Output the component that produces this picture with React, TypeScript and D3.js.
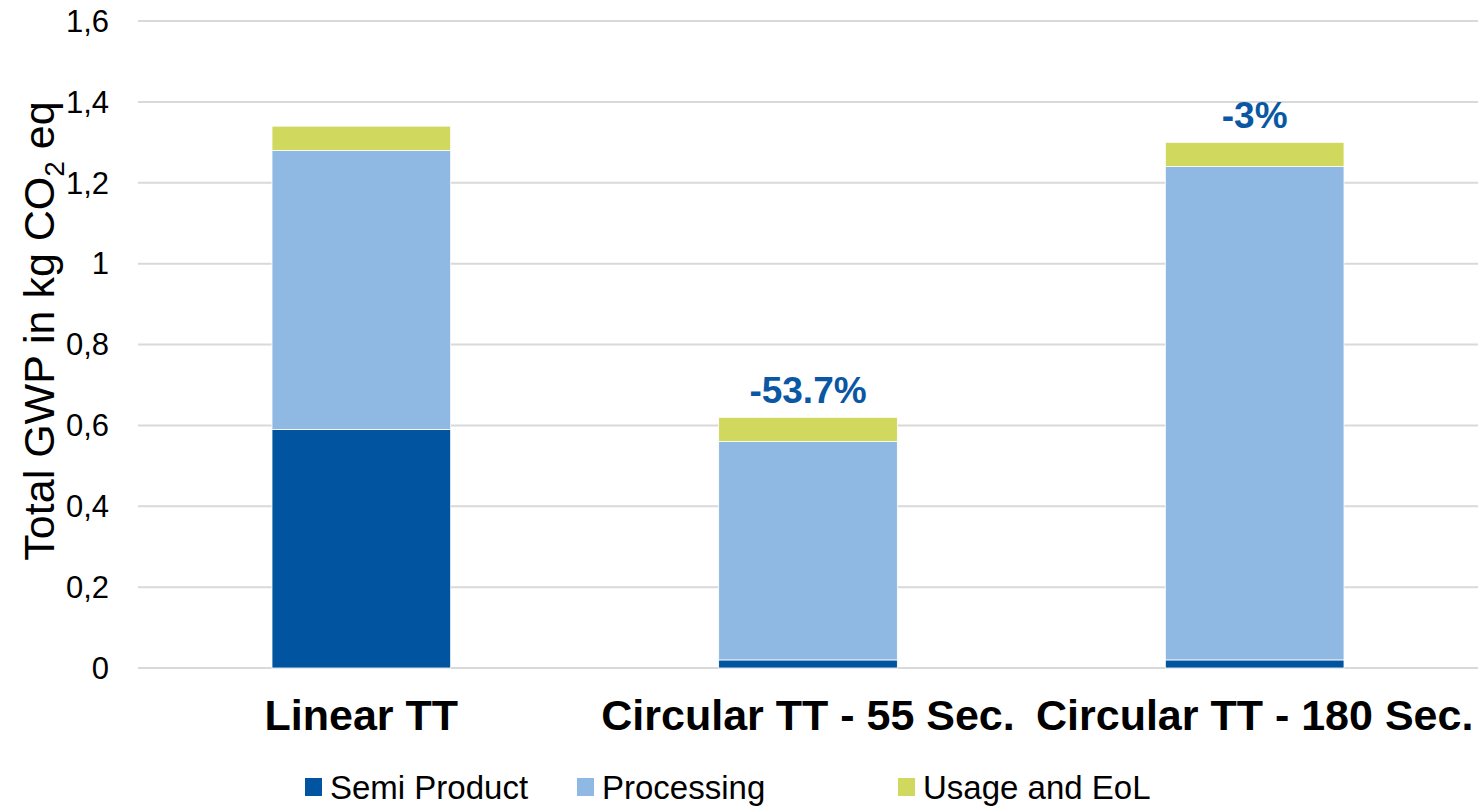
import * as d3 from 'd3';
import { useEffect, useRef } from 'react';

const width = 1478;
const height = 809;

const categories = ['Linear TT', 'Circular TT - 55 Sec.', 'Circular TT - 180 Sec.'];
const semiProduct = [0.59, 0.02, 0.02];
const processing = [0.69, 0.54, 1.22];
const usageEoL = [0.06, 0.06, 0.06];
const changeLabels = ['', '-53.7%', '-3%'];
const yTicks = [0, 0.2, 0.4, 0.6, 0.8, 1, 1.2, 1.4, 1.6];

const seriesNames = ['Semi Product', 'Processing', 'Usage and EoL'];
const seriesColors = ['#01549F', '#8FB9E3', '#D1D85E'];

const plot = { left: 138, right: 1478, top: 21, bottom: 668 };
const font = 'Liberation Sans, Arial, sans-serif';

const commaLocale = d3.formatLocale({
  decimal: ',',
  thousands: '.',
  grouping: [3],
  currency: ['', ''],
});
const tickFormat = commaLocale.format('.1~f');

const App = () => {
  const svgRef = useRef<SVGSVGElement>(null);

  useEffect(() => {
    const svg = d3.select(svgRef.current);
    svg.selectAll('*').remove();

    const x = d3
      .scaleBand()
      .domain(categories)
      .range([plot.left, plot.right])
      .paddingInner(0.6)
      .paddingOuter(0.3);
    const y = d3.scaleLinear().domain([0, 1.6]).range([plot.bottom, plot.top]);

    // gridlines
    svg
      .append('g')
      .selectAll('line')
      .data(yTicks)
      .join('line')
      .attr('x1', plot.left)
      .attr('x2', plot.right)
      .attr('y1', (d) => y(d))
      .attr('y2', (d) => y(d))
      .attr('stroke', '#D9D9D9')
      .attr('stroke-width', 2);

    // y tick labels
    svg
      .append('g')
      .selectAll('text')
      .data(yTicks)
      .join('text')
      .attr('x', 109)
      .attr('y', (d) => y(d))
      .attr('dy', '0.35em')
      .attr('text-anchor', 'end')
      .attr('font-family', font)
      .attr('font-size', 31)
      .attr('fill', '#000')
      .text((d) => tickFormat(d));

    // stacked bars
    const rows = categories.map((c, i) => ({
      category: c,
      'Semi Product': semiProduct[i],
      Processing: processing[i],
      'Usage and EoL': usageEoL[i],
    }));
    const stack = d3.stack<any>().keys(seriesNames)(rows);

    svg
      .append('g')
      .selectAll('g')
      .data(stack)
      .join('g')
      .attr('fill', (_, i) => seriesColors[i])
      .selectAll('rect')
      .data((s) => s)
      .join('rect')
      .attr('x', (d) => x(d.data.category)!)
      .attr('width', x.bandwidth())
      .attr('y', (d) => y(d[1]))
      .attr('height', (d) => y(d[0]) - y(d[1]))
      .attr('stroke', '#fff')
      .attr('stroke-width', 0.8);

    // change labels above bars
    const totals = categories.map((_, i) => semiProduct[i] + processing[i] + usageEoL[i]);
    svg
      .append('g')
      .selectAll('text')
      .data(categories)
      .join('text')
      .attr('x', (d) => x(d)! + x.bandwidth() / 2)
      .attr('y', (_, i) => y(totals[i]) - 14)
      .attr('text-anchor', 'middle')
      .attr('font-family', font)
      .attr('font-weight', 'bold')
      .attr('font-size', 37)
      .attr('fill', '#0A58A4')
      .text((_, i) => changeLabels[i]);

    // category labels
    svg
      .append('g')
      .selectAll('text')
      .data(categories)
      .join('text')
      .attr('x', (d) => x(d)! + x.bandwidth() / 2)
      .attr('y', 730)
      .attr('text-anchor', 'middle')
      .attr('font-family', font)
      .attr('font-weight', 'bold')
      .attr('font-size', 43)
      .attr('fill', '#000')
      .text((d) => d);

    // y axis title
    const title = svg
      .append('text')
      .attr('transform', 'translate(54,331) rotate(-90)')
      .attr('text-anchor', 'middle')
      .attr('font-family', font)
      .attr('font-size', 43)
      .attr('fill', '#000');
    title.append('tspan').text('Total GWP in kg CO');
    title.append('tspan').attr('dy', 10).attr('font-size', 28).text('2');
    title.append('tspan').attr('dy', -10).text(' eq');

    // legend
    const legendX = [305, 577, 898];
    const legend = svg
      .append('g')
      .selectAll('g')
      .data(seriesNames)
      .join('g')
      .attr('transform', (_, i) => `translate(${legendX[i]},778)`);
    legend
      .append('rect')
      .attr('width', 17)
      .attr('height', 18)
      .attr('fill', (_, i) => seriesColors[i]);
    legend
      .append('text')
      .attr('x', 25)
      .attr('y', 21)
      .attr('font-family', font)
      .attr('font-size', 33)
      .attr('fill', '#000')
      .text((d) => d);
  }, []);

  return (
    <div style={{ position: 'absolute', left: 0, top: 0 }}>
      <svg ref={svgRef} width={width} height={height} style={{ display: 'block', background: '#fff' }} />
    </div>
  );
};

export default App;
